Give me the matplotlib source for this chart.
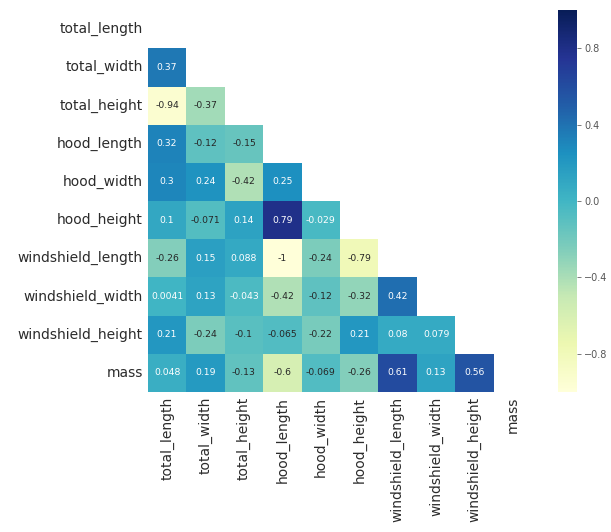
import numpy as np
import pandas as pd
import matplotlib
matplotlib.use("Agg")
import matplotlib.pyplot as plt
import seaborn as sns

cols = ["total_length", "total_width", "total_height", "hood_length", "hood_width",
        "hood_height", "windshield_length", "windshield_width", "windshield_height", "mass"]

# lower triangle of the correlation matrix, row by row
lower = [
    [],
    [0.37],
    [-0.94, -0.37],
    [0.32, -0.12, -0.15],
    [0.3, 0.24, -0.42, 0.25],
    [0.1, -0.071, 0.14, 0.79, -0.029],
    [-0.26, 0.15, 0.088, -1, -0.24, -0.79],
    [0.0041, 0.13, -0.043, -0.42, -0.12, -0.32, 0.42],
    [0.21, -0.24, -0.1, -0.065, -0.22, 0.21, 0.08, 0.079],
    [0.048, 0.19, -0.13, -0.6, -0.069, -0.26, 0.61, 0.13, 0.56],
]

n = len(cols)
corr = np.eye(n)
for i, row in enumerate(lower):
    for j, v in enumerate(row):
        corr[i, j] = v
        corr[j, i] = v
corr = pd.DataFrame(corr, index=cols, columns=cols)
mask = np.triu(np.ones_like(corr, dtype=bool))

fig = plt.figure(figsize=(6.11, 5.32), dpi=100)
ax = fig.add_axes([0.242, 0.263, 0.629, 0.718])
cax = fig.add_axes([0.914, 0.263, 0.031, 0.718])

sns.heatmap(corr, mask=mask, cmap="YlGnBu", vmin=-1, vmax=1, annot=True,
            annot_kws={"fontsize": 6.7}, ax=ax, cbar_ax=cax)

ax.tick_params(length=0, labelsize=10, labelcolor="#2b2b2b")
plt.setp(ax.get_xticklabels(), rotation=90)
plt.setp(ax.get_yticklabels(), rotation=0)
cax.set_yticks([-0.8, -0.4, 0.0, 0.4, 0.8])
cax.tick_params(labelsize=7, length=3, width=0.6, pad=2, color="#666666", labelcolor="#555555")

fig.savefig("out.png", dpi=100)
